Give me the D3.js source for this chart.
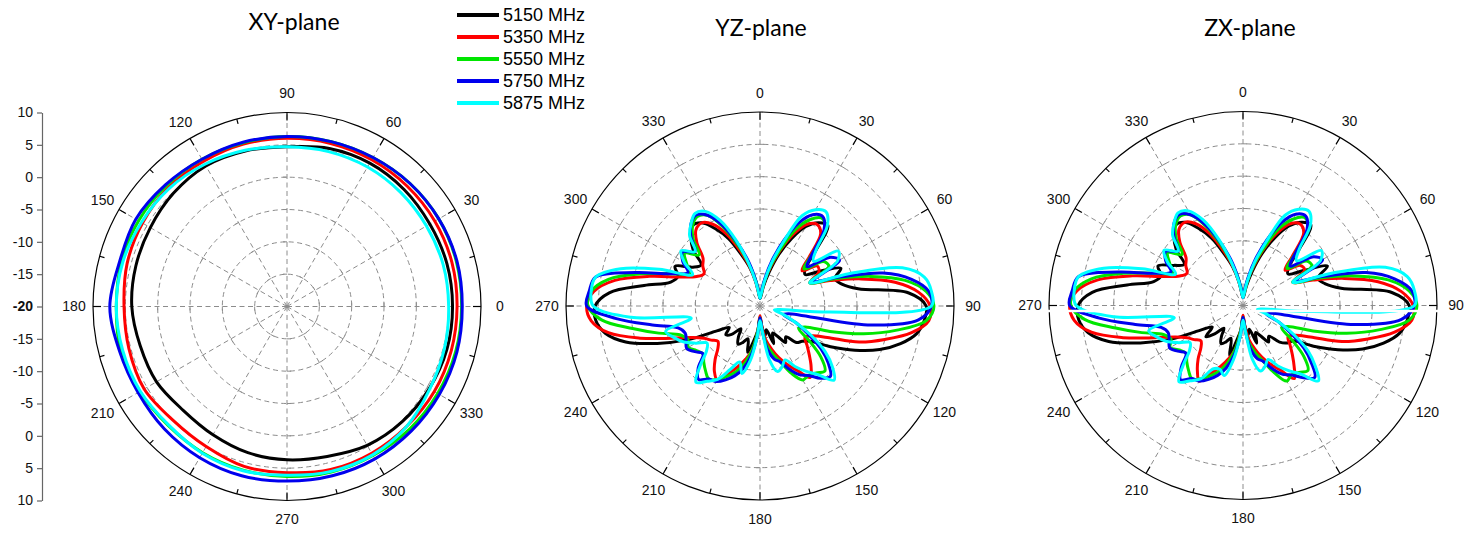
<!DOCTYPE html>
<html>
<head>
<meta charset="utf-8">
<script src="https://cdn.jsdelivr.net/npm/d3@7"></script>
<style>
  body { margin: 0; background: #fff; }
  svg { display: block; font-family: "Liberation Sans", Arial, sans-serif; }
</style>
</head>
<body>
<svg id="chart" width="1478" height="533"></svg>
<script>
// frequencies and colours
const freqs = ['5150 MHz', '5350 MHz', '5550 MHz', '5750 MHz', '5875 MHz'];
const colors = ['#000000', '#ff0000', '#00e600', '#0000ee', '#00ffff'];

// XY-plane gain (dB), every 15 deg, 0 deg at right, counter-clockwise
const xyAngles = d3.range(0, 360, 15);
const xy5150 = [5.6,5.6,5.5,5.6,5.6,5.3,4.7,4.9,5.1,4.8,4.4,4.2,4.0,3.5,3.3,2.7,2.9,3.4,3.7,4.0,4.8,5.2,5.4,5.6];
const xy5350 = [6.3,6.4,6.4,6.3,6.2,6.1,6.0,6.0,5.9,6.0,5.8,5.6,5.2,5.3,5.5,4.9,5.0,5.6,5.7,6.1,6.2,6.2,6.3,6.3];
const xy5550 = [7.0,7.1,7.1,6.9,6.6,6.4,6.3,6.2,6.3,6.4,6.5,6.5,6.4,6.6,6.3,6.0,6.1,6.2,6.3,6.5,6.6,6.8,6.9,7.0];
const xy5750 = [7.1,7.2,7.1,6.9,6.6,6.4,6.3,6.3,6.3,6.6,7.0,6.8,7.4,6.8,6.6,6.8,7.0,7.1,7.0,7.1,7.2,7.2,7.2,7.2];
const xy5875 = [5.0,5.0,4.9,4.9,4.9,4.8,4.7,5.0,5.4,5.8,6.0,6.3,6.4,6.3,6.2,5.9,6.2,6.3,6.1,6.4,6.5,6.2,5.5,5.2];

// YZ / ZX gain (dB), every 5 deg, 0 deg at top, clockwise
const elAngles = d3.range(0, 360, 5);
const yz5150 = [-18.8,-18.5,-16.9,-14.6,-11.5,-8.5,-5.8,-4.3,-3.7,-7.7,-10.8,-11.5,-9.2,-6.2,-7.7,-6.9,-4.6,3.1,5.7,5.5,4.6,2.5,-0.3,-3.8,-7.4,-10.5,-11.5,-12.0,-13.8,-13.1,-14.6,-15.4,-13.8,-16.2,-15.4,-16.9,
  -18.2,-16.2,-14.6,-12.6,-14.6,-13.8,-13.2,-14.2,-15.4,-13.8,-13.1,-14.2,-12.3,-7.7,-3.1,1.5,4.3,5.5,5.5,3.4,-1.8,-5.7,-6.5,-5.5,-8.0,-8.9,-6.5,-4.9,-3.8,-4.3,-6.2,-8.5,-11.5,-13.8,-16.2,-18.2];
const yz5350 = [-18.8,-18.2,-16.2,-13.8,-10.8,-7.7,-5.4,-4.6,-5.4,-9.2,-11.5,-9.2,-9.5,-11.5,-8.5,-3.8,1.2,4.6,6.3,6.2,3.8,0.0,-3.7,-8.5,-10.8,-11.5,-10.5,-9.2,-7.7,-6.5,-8.5,-10.0,-11.5,-13.1,-14.6,-16.9,
  -18.5,-16.2,-13.1,-11.5,-10.0,-8.5,-6.8,-7.7,-9.2,-10.8,-11.5,-10.8,-10.0,-8.5,-5.4,-0.8,3.8,6.2,6.8,5.8,2.8,-2.3,-6.9,-9.2,-10.0,-9.2,-8.5,-6.2,-4.6,-4.3,-5.4,-7.7,-10.8,-13.5,-16.2,-18.2];
const yz5550 = [-18.8,-18.2,-16.2,-13.5,-10.5,-6.9,-4.6,-3.4,-4.3,-8.5,-11.1,-8.0,-7.7,-11.5,-7.7,-2.3,2.8,5.8,6.9,5.8,1.5,-3.4,-8.5,-12.3,-13.1,-10.8,-7.7,-5.8,-6.5,-6.9,-6.8,-8.5,-10.8,-12.3,-13.8,-16.2,
  -18.2,-16.2,-13.1,-10.8,-9.2,-8.0,-6.9,-6.2,-6.9,-7.7,-8.5,-8.0,-7.2,-7.7,-6.9,-3.8,0.0,4.6,6.6,6.2,3.8,-0.8,-5.4,-8.0,-6.9,-5.8,-7.7,-5.4,-3.8,-3.1,-3.8,-6.5,-10.0,-13.1,-15.7,-17.8];
const yz5750 = [-18.8,-17.8,-15.7,-12.6,-9.2,-5.8,-3.7,-3.1,-4.6,-8.5,-10.5,-6.9,-5.8,-10.8,-6.9,-0.3,3.8,6.2,6.5,4.6,-3.1,-15.4,-16.2,-13.8,-11.5,-8.5,-6.2,-4.6,-5.4,-6.9,-7.7,-9.2,-10.8,-11.5,-13.1,-16.2,
  -18.2,-15.4,-12.3,-10.0,-8.5,-7.4,-6.5,-6.2,-5.2,-6.5,-8.5,-7.7,-6.9,-7.4,-7.7,-6.9,-3.1,2.3,6.8,6.5,5.8,0.0,-5.4,-7.7,-6.2,-5.4,-6.9,-4.9,-3.4,-2.8,-3.8,-6.2,-9.5,-12.6,-15.7,-17.8];
const yz5875 = [-18.8,-18.2,-16.2,-13.1,-9.5,-4.6,-2.8,-2.2,-3.8,-7.7,-9.2,-5.2,-6.2,-11.5,-5.4,2.8,5.8,6.6,6.5,-9.2,-16.9,-17.7,-16.2,-13.8,-10.8,-7.7,-5.4,-3.8,-6.2,-7.7,-9.2,-10.8,-10.0,-9.5,-11.5,-16.2,
  -17.7,-15.4,-11.5,-9.2,-10.8,-9.2,-6.9,-5.8,-4.6,-6.9,-9.2,-10.0,-8.5,-6.9,-5.8,-4.9,-9.2,0.0,5.8,6.2,5.8,2.3,-3.4,-8.5,-6.5,-5.1,-6.9,-4.6,-3.4,-2.5,-3.1,-5.4,-9.2,-13.1,-16.2,-18.2];

const zx5150 = [-18.8,-18.5,-16.9,-14.6,-11.5,-8.5,-5.8,-4.3,-3.7,-7.7,-10.8,-11.5,-9.2,-5.6,-7.7,-6.9,-4.6,3.1,5.7,5.5,4.6,2.5,-0.3,-3.8,-7.4,-10.5,-11.0,-12.0,-13.8,-13.1,-14.6,-15.4,-13.8,-16.2,-15.4,-16.9,
  -18.2,-16.2,-14.6,-12.0,-14.6,-13.8,-13.2,-14.2,-15.4,-13.8,-12.5,-14.2,-12.3,-7.7,-3.1,1.5,4.3,5.5,5.5,3.4,-1.8,-5.7,-6.5,-5.5,-7.6,-8.9,-6.5,-4.9,-3.8,-4.3,-6.2,-8.5,-11.5,-13.8,-16.2,-18.2];
const zx5350 = [-18.8,-18.2,-16.2,-13.8,-10.8,-7.7,-5.4,-4.6,-5.4,-9.2,-11.5,-9.2,-9.0,-11.5,-8.5,-3.8,1.2,4.6,6.3,6.2,3.8,0.0,-3.7,-8.5,-10.8,-11.5,-10.5,-9.2,-7.7,-6.2,-8.5,-10.0,-11.5,-13.1,-14.6,-16.9,
  -18.5,-16.2,-13.1,-11.5,-10.0,-8.5,-6.5,-7.7,-9.2,-10.8,-11.5,-10.8,-10.0,-8.5,-5.4,-0.8,3.8,6.2,6.8,5.8,2.8,-2.3,-6.9,-9.2,-10.0,-9.2,-8.5,-6.2,-4.6,-4.3,-5.4,-7.7,-10.8,-13.5,-16.2,-18.2];
const zx5550 = [-18.8,-18.2,-16.2,-13.5,-10.5,-6.9,-4.6,-3.4,-4.3,-8.5,-11.1,-8.0,-7.7,-11.5,-7.7,-2.3,2.8,5.8,6.9,5.8,1.5,-3.4,-8.5,-12.3,-13.1,-10.8,-7.7,-5.8,-6.5,-6.9,-6.5,-8.5,-10.8,-12.3,-13.8,-16.2,
  -18.2,-16.2,-13.1,-10.8,-9.2,-8.0,-6.9,-6.2,-6.9,-7.7,-8.5,-8.0,-7.0,-7.7,-6.9,-3.8,0.0,4.6,6.6,6.2,3.8,-0.8,-5.4,-8.0,-6.9,-5.8,-7.7,-5.4,-3.8,-3.1,-3.8,-6.5,-10.0,-13.1,-15.7,-17.8];
const zx5750 = [-18.8,-17.8,-15.7,-12.6,-9.2,-5.8,-3.7,-3.1,-4.6,-8.5,-10.5,-6.9,-5.8,-10.8,-6.9,-0.3,3.8,6.2,6.5,4.6,-3.1,-15.4,-16.2,-13.8,-11.5,-8.5,-6.2,-4.3,-5.4,-6.9,-7.7,-9.2,-10.8,-11.5,-13.1,-16.2,
  -18.2,-15.4,-12.3,-10.0,-8.5,-7.4,-6.5,-6.2,-5.0,-6.5,-8.5,-7.7,-6.9,-7.4,-7.7,-6.9,-3.1,2.3,6.8,6.5,5.8,0.0,-5.4,-7.7,-6.2,-5.4,-6.9,-4.9,-3.4,-2.8,-3.8,-6.2,-9.5,-12.6,-15.7,-17.8];
const zx5875 = [-18.8,-18.2,-16.2,-13.1,-9.5,-4.6,-2.8,-2.2,-3.8,-7.7,-9.2,-5.2,-6.2,-11.5,-5.4,2.8,5.8,6.6,6.5,-9.2,-16.9,-17.7,-16.2,-13.8,-10.8,-7.7,-5.4,-3.5,-6.2,-7.7,-9.2,-10.8,-10.0,-9.5,-11.5,-16.2,
  -17.7,-15.4,-11.5,-8.8,-9.5,-9.2,-6.9,-5.8,-4.6,-6.9,-9.2,-10.0,-8.5,-6.9,-5.8,-4.9,-9.2,0.0,5.8,6.2,5.8,2.3,-3.4,-8.5,-6.5,-5.1,-6.9,-4.6,-3.4,-2.5,-3.1,-5.4,-9.2,-13.1,-16.2,-18.2];

// radial axis ticks (dB) and angle labels
const ringValues = [-15, -10, -5, 0, 5];
const angleLabels = d3.range(0, 360, 30);
const yTickLabels = [10, 5, 0, -5, -10, -15, -20, -15, -10, -5, 0, 5, 10];

const svg = d3.select('#chart');
const R = 194;
const rScale = d3.scaleLinear().domain([-20, 10]).range([0, R]).clamp(true);

// angle (deg) -> lineRadial angle (rad, clockwise from top)
const xyRad = a => (90 - a) * Math.PI / 180;
const elRad = a => a * Math.PI / 180;

function drawPolar(cx, cy, toRad, angles, dataSets) {
    const g = svg.append('g').attr('transform', `translate(${cx},${cy})`);
    const pos = (a, r) => [r * Math.sin(toRad(a)), -r * Math.cos(toRad(a))];

    // dashed rings
    g.selectAll('.ring').data(ringValues).enter().append('circle')
        .attr('r', d => rScale(d))
        .attr('fill', 'none').attr('stroke', '#8c8c8c')
        .attr('stroke-width', 1).attr('stroke-dasharray', '5,3.5');

    // dashed spokes
    g.selectAll('.spoke').data(angleLabels).enter().append('line')
        .attr('x1', 0).attr('y1', 0)
        .attr('x2', d => pos(d, R)[0]).attr('y2', d => pos(d, R)[1])
        .attr('stroke', '#8c8c8c').attr('stroke-width', 1).attr('stroke-dasharray', '5,3.5');

    // small ticks on the spokes at each ring
    angleLabels.forEach(a => {
        ringValues.forEach(v => {
            const r = rScale(v);
            const p = pos(a, r), q = pos(a + 90, 4);
            g.append('line')
                .attr('x1', p[0]).attr('y1', p[1])
                .attr('x2', p[0] + q[0]).attr('y2', p[1] + q[1])
                .attr('stroke', '#8c8c8c').attr('stroke-width', 1);
        });
    });

    // outer circle + ticks
    g.append('circle').attr('r', R).attr('fill', 'none')
        .attr('stroke', '#000').attr('stroke-width', 1.2);
    d3.range(0, 360, 15).forEach(a => {
        const len = a % 30 === 0 ? 8 : 5;
        const p = pos(a, R), p2 = pos(a, R - len);
        g.append('line')
            .attr('x1', p[0]).attr('y1', p[1]).attr('x2', p2[0]).attr('y2', p2[1])
            .attr('stroke', '#000').attr('stroke-width', 1.2);
    });

    // angle labels
    g.selectAll('.alabel').data(angleLabels).enter().append('text')
        .attr('x', d => pos(d, R + 19)[0])
        .attr('y', d => pos(d, R + 19)[1])
        .attr('text-anchor', 'middle').attr('dy', '0.35em')
        .attr('font-size', 14).attr('fill', '#111')
        .text(d => d);

    // pattern curves
    const line = d3.lineRadial()
        .angle(d => toRad(d[0]))
        .radius(d => rScale(d[1]))
        .curve(d3.curveCatmullRomClosed.alpha(0.5));

    dataSets.forEach((vals, i) => {
        g.append('path')
            .datum(angles.map((a, k) => [a, vals[k]]))
            .attr('fill', 'none')
            .attr('stroke', colors[i])
            .attr('stroke-width', 3)
            .attr('stroke-linejoin', 'round')
            .attr('d', line);
    });
    return g;
}

// XY-plane
drawPolar(287, 306.5, xyRad, xyAngles, [xy5150, xy5350, xy5550, xy5750, xy5875]);

// left radial axis for XY
const yAxisScale = d3.scaleLinear().domain([0, 60]).range([306.5 - R, 306.5 + R]);
const yAxis = svg.append('g')
    .attr('transform', 'translate(42,0)')
    .call(d3.axisLeft(yAxisScale)
        .tickValues(d3.range(0, 61, 5))
        .tickFormat((d, i) => yTickLabels[i])
        .tickSize(5).tickSizeOuter(0).tickPadding(4));
yAxis.select('.domain').attr('stroke', '#666').attr('stroke-width', 1.2);
yAxis.selectAll('.tick line').attr('stroke', '#666').attr('stroke-width', 1.2);
yAxis.selectAll('.tick text')
    .attr('font-size', 14).attr('font-family', '"Liberation Sans", Arial, sans-serif')
    .attr('fill', '#111')
    .attr('font-weight', (d, i) => i === 6 ? 'bold' : 'normal');

// YZ-plane
drawPolar(760, 306, elRad, elAngles, [yz5150, yz5350, yz5550, yz5750, yz5875]);

// ZX-plane
const gzx = drawPolar(1243, 305.5, elRad, elAngles, [zx5150, zx5350, zx5550, zx5750, zx5875]);
gzx.append('line')
    .attr('x1', -R - 2).attr('x2', R + 2).attr('y1', 5.5).attr('y2', 5.5)
    .attr('stroke', '#fff').attr('stroke-width', 2.5);

// titles
const titles = [['XY-plane', 294, 22], ['YZ-plane', 761, 28], ['ZX-plane', 1250, 28]];
svg.selectAll('.title').data(titles).enter().append('text')
    .attr('x', d => d[1]).attr('y', d => d[2])
    .attr('dy', '0.35em').attr('text-anchor', 'middle')
    .attr('font-family', 'Lato, "Open Sans", sans-serif')
    .attr('font-size', 23).attr('fill', '#000')
    .text(d => d[0]);

// legend
const legend = svg.append('g').attr('transform', 'translate(457,15)');
freqs.forEach((f, i) => {
    const row = legend.append('g').attr('transform', `translate(0,${i * 22})`);
    row.append('line').attr('x1', 0).attr('x2', 42).attr('y1', 0).attr('y2', 0)
        .attr('stroke', colors[i]).attr('stroke-width', 4);
    row.append('text').attr('x', 46).attr('dy', '0.35em')
        .attr('font-size', 18).attr('fill', '#000').text(f);
});
</script>
</body>
</html>
